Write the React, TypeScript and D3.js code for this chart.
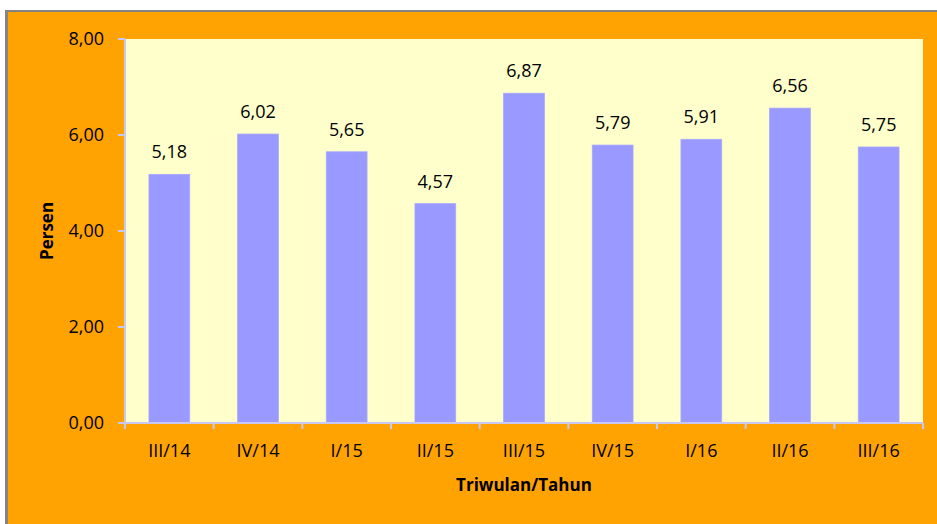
import React from "react";
import * as d3 from "d3";

const categories = ["III/14", "IV/14", "I/15", "II/15", "III/15", "IV/15", "I/16", "II/16", "III/16"];
const values = [5.18, 6.02, 5.65, 4.57, 6.87, 5.79, 5.91, 6.56, 5.75];
const yTicks = [0, 2, 4, 6, 8];

const W = 937;
const H = 524;
const plot = { left: 125, right: 923, top: 39, bottom: 423 };
const FONT = "'Open Sans', 'Noto Sans', sans-serif";
const fmt = (v: number) => v.toFixed(2).replace(".", ",");

export default function App() {
  const x = d3.scaleBand<string>().domain(categories).range([plot.left, plot.right]).paddingInner(0.54).paddingOuter(0.27);
  const y = d3.scaleLinear().domain([0, 8]).range([plot.bottom, plot.top]);
  const axisColor = "#C8C8F0";
  const tickXs = d3.range(categories.length + 1).map((i) => plot.left + i * ((plot.right - plot.left) / categories.length));

  return (
    <div style={{ position: "absolute", left: 0, top: 0 }}>
      <svg width={W} height={H} style={{ display: "block" }}>
        <rect x={0} y={0} width={W} height={H} fill="#ffffff" />
        <rect x={5} y={10} width={W - 5} height={H - 10} fill="#858585" />
        <rect x={8} y={12} width={W - 8} height={H - 12} fill="#FFA303" />
        <rect x={plot.left} y={plot.top} width={plot.right - plot.left} height={plot.bottom - plot.top} fill="#FFFFCC" />
        {values.map((v, i) => (
          <g key={categories[i]}>
            <rect
              x={x(categories[i])!}
              y={y(v)}
              width={x.bandwidth()}
              height={y(0) - y(v)}
              fill="#9999FF"
              stroke="#A8A8FF"
              strokeWidth={0.8}
            />
            <text
              x={x(categories[i])! + x.bandwidth() / 2}
              y={y(v) - 16}
              textAnchor="middle"
              fontFamily={FONT}
              fontSize={18}
              fill="#000"
            >
              {fmt(v)}
            </text>
            <text
              x={x(categories[i])! + x.bandwidth() / 2}
              y={457}
              textAnchor="middle"
              fontFamily={FONT}
              fontSize={18}
              fill="#000"
            >
              {categories[i]}
            </text>
          </g>
        ))}
        <line x1={plot.left} x2={plot.left} y1={plot.top} y2={plot.bottom} stroke={axisColor} strokeWidth={2} />
        {yTicks.map((t) => (
          <g key={t}>
            <line x1={118} x2={plot.left} y1={y(t)} y2={y(t)} stroke={axisColor} strokeWidth={2} />
            <text x={104} y={y(t)} dy="0.35em" textAnchor="end" fontFamily={FONT} fontSize={18} fill="#000">
              {fmt(t)}
            </text>
          </g>
        ))}
        <line x1={118} x2={plot.right} y1={plot.bottom} y2={plot.bottom} stroke={axisColor} strokeWidth={2} />
        {tickXs.map((tx, i) => (
          <line key={i} x1={tx} x2={tx} y1={plot.bottom} y2={plot.bottom + 6} stroke={axisColor} strokeWidth={2} />
        ))}
        <text
          transform={`translate(53,${(plot.top + plot.bottom) / 2}) rotate(-90)`}
          textAnchor="middle"
          fontFamily={FONT}
          fontWeight="bold"
          fontSize={17}
          fill="#000"
        >
          Persen
        </text>
        <text x={524} y={491} textAnchor="middle" fontFamily={FONT} fontWeight="bold" fontSize={17} fill="#000">
          Triwulan/Tahun
        </text>
      </svg>
    </div>
  );
}
